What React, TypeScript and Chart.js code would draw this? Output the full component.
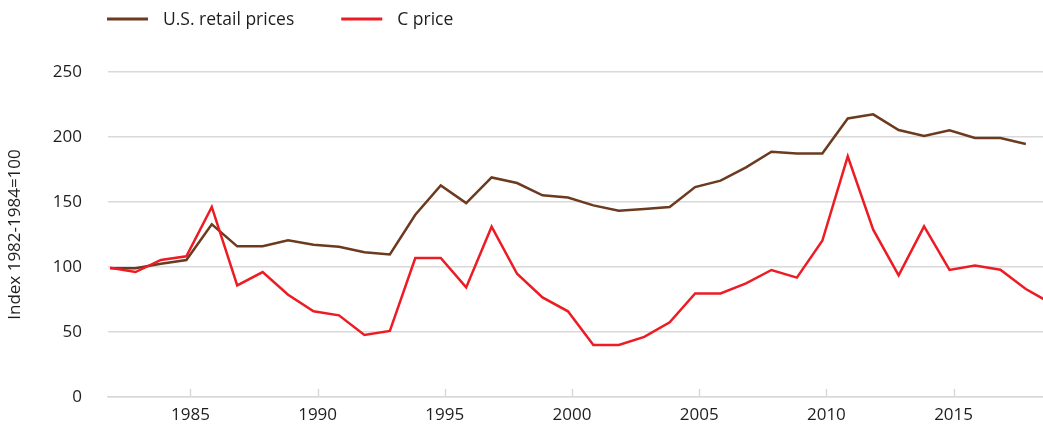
import React, { useEffect, useRef } from "react";
import { Chart, registerables } from "chart.js";

Chart.register(...registerables);

const years = [
  1982, 1983, 1984, 1985, 1986, 1987, 1988, 1989, 1990, 1991, 1992, 1993, 1994,
  1995, 1996, 1997, 1998, 1999, 2000, 2001, 2002, 2003, 2004, 2005, 2006, 2007,
  2008, 2009, 2010, 2011, 2012, 2013, 2014, 2015, 2016, 2017, 2018, 2019,
];

const retailPrices: (number | null)[] = [
  99, 99, 102.5, 105.4, 132.8, 115.9, 115.9, 120.5, 117.2, 115.6, 111.3, 109.7,
  140.2, 162.8, 149.2, 168.9, 164.6, 155.1, 153.5, 147.4, 143.3, 144.6, 146.2,
  161.5, 166.4, 176.6, 188.7, 187.4, 187.4, 214.3, 217.4, 205.4, 200.8, 205.1,
  199.2, 199.2, 194.6, null,
];

const cPrice: number[] = [
  99.5, 96.1, 105.4, 108.2, 146.2, 85.8, 96.1, 78.7, 65.9, 62.8, 47.7, 50.8,
  106.9, 106.9, 84.3, 131, 94.8, 76.6, 65.9, 40, 40, 46.2, 57.4, 79.7, 79.7,
  87.4, 97.7, 91.8, 120.2, 185.1, 128.7, 93.5, 131.2, 97.7, 101.2, 97.9, 83.1, 72,
];

const xTickYears = [1985, 1990, 1995, 2000, 2005, 2010, 2015];
const yTicks = [0, 50, 100, 150, 200, 250];

const seriesLabels = ["U.S. retail prices", "C price"];
const seriesColors = ["#6b3a1f", "#ed1c24"];

const FONT = "'Open Sans', 'DejaVu Sans', sans-serif";
const TEXT_COLOR = "#1e1e1e";
const GRID_COLOR = "#d9d9d9";

const decorPlugin = {
  id: "decor",
  beforeDatasetsDraw(chart: any) {
    const { ctx, chartArea, scales } = chart;
    const x = scales.x;
    ctx.save();
    ctx.strokeStyle = GRID_COLOR;
    ctx.lineWidth = 1.5;
    x.ticks.forEach((t: any) => {
      const px = Math.round(x.getPixelForValue(t.value)) + 0.5;
      ctx.beginPath();
      ctx.moveTo(px, chartArea.bottom);
      ctx.lineTo(px, chartArea.bottom - 8);
      ctx.stroke();
    });
    ctx.restore();
  },
  afterDraw(chart: any) {
    const { ctx, chartArea } = chart;
    ctx.save();
    ctx.font = `17.5px ${FONT}`;
    ctx.textBaseline = "middle";
    let cx = chartArea.left - 1;
    const cy = 19;
    chart.data.datasets.forEach((ds: any) => {
      ctx.strokeStyle = ds.borderColor;
      ctx.lineWidth = 3;
      ctx.beginPath();
      ctx.moveTo(cx, cy);
      ctx.lineTo(cx + 41, cy);
      ctx.stroke();
      cx += 41 + 15;
      ctx.fillStyle = TEXT_COLOR;
      ctx.fillText(ds.label, cx, cy + 1);
      cx += ctx.measureText(ds.label).width + 47;
    });
    ctx.restore();
  },
};

export default function App() {
  const canvasRef = useRef<HTMLCanvasElement | null>(null);

  useEffect(() => {
    document.body.style.margin = "0";
    const canvas = canvasRef.current;
    if (!canvas) return;
    const chart = new Chart(canvas, {
      type: "line",
      data: {
        datasets: [
          {
            label: seriesLabels[0],
            data: years.map((yr, i) => ({ x: yr, y: retailPrices[i] })),
            borderColor: seriesColors[0],
            backgroundColor: seriesColors[0],
            borderWidth: 2.5,
            pointRadius: 0,
            tension: 0,
            order: 1,
            spanGaps: false,
          },
          {
            label: seriesLabels[1],
            data: years.map((yr, i) => ({ x: yr, y: cPrice[i] })),
            borderColor: seriesColors[1],
            backgroundColor: seriesColors[1],
            borderWidth: 2.5,
            pointRadius: 0,
            tension: 0,
            order: 0,
          },
        ],
      },
      options: {
        animation: false,
        responsive: true,
        maintainAspectRatio: false,
        layout: { padding: { top: 72, right: 0, bottom: 0, left: 0 } },
        plugins: {
          legend: { display: false },
          tooltip: { enabled: false },
        },
        scales: {
          x: {
            type: "linear",
            min: 1981.92,
            max: 2018.675,
            grid: { display: false, drawTicks: false },
            border: { display: true, color: GRID_COLOR, width: 1.5 },
            afterBuildTicks: (scale: any) => {
              scale.ticks = xTickYears.map((v) => ({ value: v + 0.16 }));
            },
            afterFit: (scale: any) => {
              scale.height = 29;
              scale.paddingLeft = 0;
              scale.paddingRight = 0;
            },
            ticks: {
              autoSkip: false,
              maxRotation: 0,
              padding: 8,
              color: TEXT_COLOR,
              font: { family: FONT, size: 17 },
              callback: (v: any) => String(Math.round(Number(v))),
            },
          },
          y: {
            min: 0,
            max: 250,
            afterBuildTicks: (scale: any) => {
              scale.ticks = yTicks.map((v) => ({ value: v }));
            },
            afterFit: (scale: any) => {
              scale.width = 108;
              scale.paddingTop = 0;
              scale.paddingBottom = 0;
            },
            grid: { color: GRID_COLOR, lineWidth: 1.5, drawTicks: false },
            border: { display: false },
            ticks: {
              padding: 26,
              color: TEXT_COLOR,
              font: { family: FONT, size: 17 },
            },
            title: {
              display: true,
              text: "Index 1982-1984=100",
              color: TEXT_COLOR,
              font: { family: FONT, size: 17 },
              padding: { top: 5, bottom: 0 },
            },
          },
        },
      },
      plugins: [decorPlugin],
    });
    return () => chart.destroy();
  }, []);

  return (
    <div style={{ position: "relative", width: 1043, height: 426 }}>
      <canvas ref={canvasRef} />
    </div>
  );
}
